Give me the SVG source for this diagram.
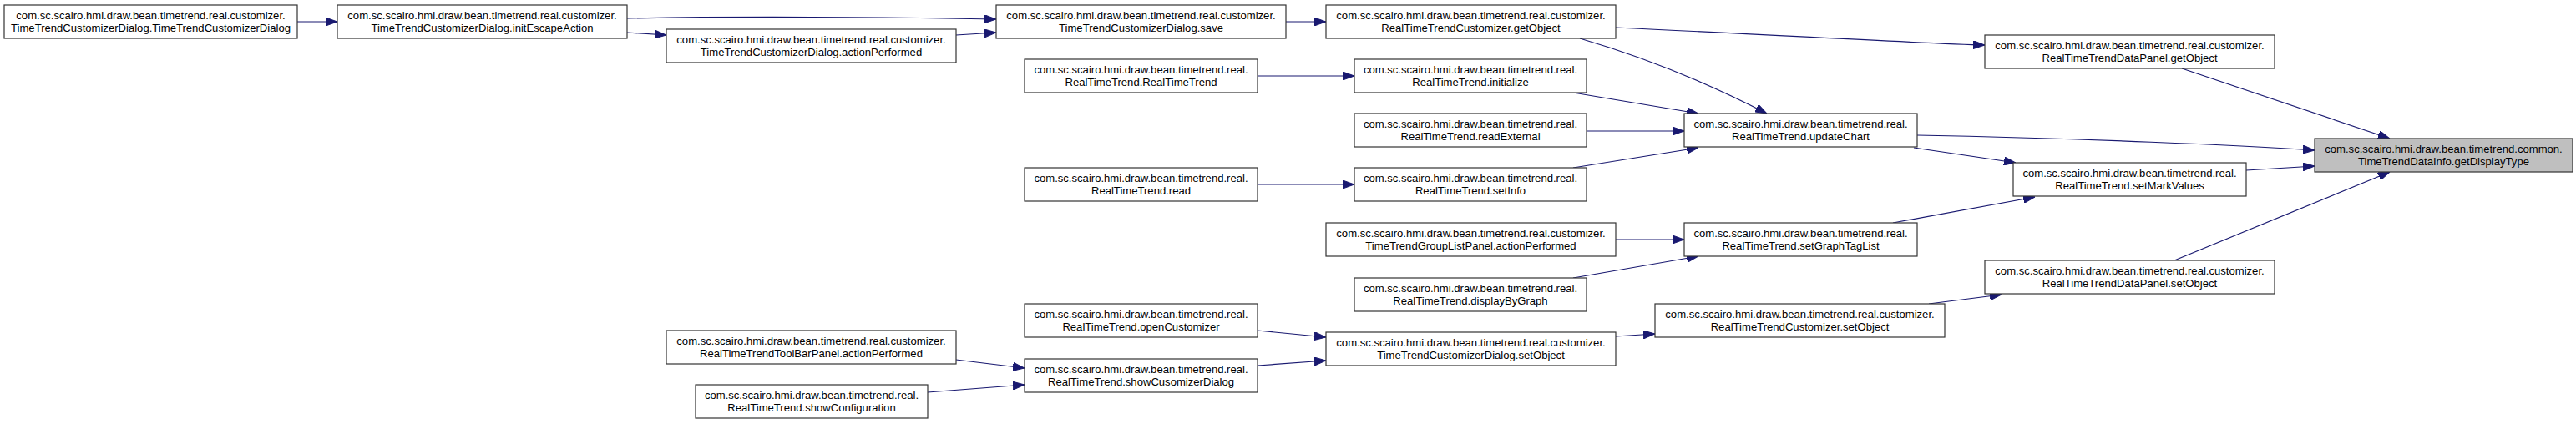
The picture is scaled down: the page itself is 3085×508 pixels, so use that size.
<svg xmlns="http://www.w3.org/2000/svg" width="3085" height="508" viewBox="0 0 3085 508">
<style>
.node rect{fill:#ffffff;stroke:#333333;stroke-width:1.2}
.node.target rect{fill:#bfbfbf}
.node text{font-family:"Liberation Sans",Arial,sans-serif;font-size:13.1px;fill:#000000;text-anchor:middle}
.edges path{fill:none;stroke:#191970;stroke-width:1.2;marker-end:url(#arrow)}
</style>
<defs>
<marker id="arrow" markerUnits="userSpaceOnUse" viewBox="0 0 14 10" refX="14" refY="5" markerWidth="14" markerHeight="10" orient="auto">
<path d="M0,0 L14,5 L0,10 z" fill="#191970" stroke="#191970" stroke-width="1"/>
</marker>
</defs>
<rect width="3085" height="508" fill="#ffffff"/>
<g class="edges" id="edges">
<path d="M356,26 L404,26"/>
<path d="M751,22 C900,19 1080,21 1193,23"/>
<path d="M751,39 L798,42"/>
<path d="M1145,42 L1193,39"/>
<path d="M1540,26 L1588,26"/>
<path d="M1506,91 L1622,91"/>
<path d="M1506,221 L1622,221"/>
<path d="M1892,46 Q2008,80 2116,136"/>
<path d="M1884,111 L2034,136"/>
<path d="M1900,157 L2017,157"/>
<path d="M1884,201 L2034,177"/>
<path d="M1935,33 C2150,43 2300,52 2377,54"/>
<path d="M2296,162 C2500,166 2680,174 2772,180"/>
<path d="M2292,177 L2414,195"/>
<path d="M2613,82 L2862,166"/>
<path d="M2690,204 L2772,199"/>
<path d="M1935,287 L2017,287"/>
<path d="M1884,333 L2034,307"/>
<path d="M2267,267 L2437,236"/>
<path d="M2604,312 L2862,206"/>
<path d="M2310,364 L2397,353"/>
<path d="M1935,403 L1982,400"/>
<path d="M1506,396 L1588,404"/>
<path d="M1506,438 L1588,432"/>
<path d="M1145,431 L1227,441"/>
<path d="M1111,470 L1227,461"/>
</g>
<g class="node" id="n_ttcd_ctor"><rect x="5" y="6" width="351" height="40"/><text x="180.5" y="23">com.sc.scairo.hmi.draw.bean.timetrend.real.customizer.</text><text x="180.5" y="38">TimeTrendCustomizerDialog.TimeTrendCustomizerDialog</text></g>
<g class="node" id="n_initEscape"><rect x="404" y="6" width="347" height="40"/><text x="577.5" y="23">com.sc.scairo.hmi.draw.bean.timetrend.real.customizer.</text><text x="577.5" y="38">TimeTrendCustomizerDialog.initEscapeAction</text></g>
<g class="node" id="n_ttcd_action"><rect x="798" y="35" width="347" height="40"/><text x="971.5" y="52">com.sc.scairo.hmi.draw.bean.timetrend.real.customizer.</text><text x="971.5" y="67">TimeTrendCustomizerDialog.actionPerformed</text></g>
<g class="node" id="n_save"><rect x="1193" y="6" width="347" height="40"/><text x="1366.5" y="23">com.sc.scairo.hmi.draw.bean.timetrend.real.customizer.</text><text x="1366.5" y="38">TimeTrendCustomizerDialog.save</text></g>
<g class="node" id="n_rtt_ctor"><rect x="1227" y="71" width="279" height="40"/><text x="1366.5" y="88">com.sc.scairo.hmi.draw.bean.timetrend.real.</text><text x="1366.5" y="103">RealTimeTrend.RealTimeTrend</text></g>
<g class="node" id="n_read"><rect x="1227" y="201" width="279" height="40"/><text x="1366.5" y="218">com.sc.scairo.hmi.draw.bean.timetrend.real.</text><text x="1366.5" y="233">RealTimeTrend.read</text></g>
<g class="node" id="n_rttc_get"><rect x="1588" y="6" width="347" height="40"/><text x="1761.5" y="23">com.sc.scairo.hmi.draw.bean.timetrend.real.customizer.</text><text x="1761.5" y="38">RealTimeTrendCustomizer.getObject</text></g>
<g class="node" id="n_initialize"><rect x="1622" y="71" width="278" height="40"/><text x="1761" y="88">com.sc.scairo.hmi.draw.bean.timetrend.real.</text><text x="1761" y="103">RealTimeTrend.initialize</text></g>
<g class="node" id="n_readExternal"><rect x="1622" y="136" width="278" height="40"/><text x="1761" y="153">com.sc.scairo.hmi.draw.bean.timetrend.real.</text><text x="1761" y="168">RealTimeTrend.readExternal</text></g>
<g class="node" id="n_setInfo"><rect x="1622" y="201" width="278" height="40"/><text x="1761" y="218">com.sc.scairo.hmi.draw.bean.timetrend.real.</text><text x="1761" y="233">RealTimeTrend.setInfo</text></g>
<g class="node" id="n_updateChart"><rect x="2017" y="136" width="279" height="40"/><text x="2156.5" y="153">com.sc.scairo.hmi.draw.bean.timetrend.real.</text><text x="2156.5" y="168">RealTimeTrend.updateChart</text></g>
<g class="node" id="n_dp_get"><rect x="2377" y="42" width="347" height="40"/><text x="2550.5" y="59">com.sc.scairo.hmi.draw.bean.timetrend.real.customizer.</text><text x="2550.5" y="74">RealTimeTrendDataPanel.getObject</text></g>
<g class="node target" id="n_target"><rect x="2772" y="166" width="309" height="40"/><text x="2926.5" y="183">com.sc.scairo.hmi.draw.bean.timetrend.common.</text><text x="2926.5" y="198">TimeTrendDataInfo.getDisplayType</text></g>
<g class="node" id="n_setMarkValues"><rect x="2411" y="195" width="279" height="40"/><text x="2550.5" y="212">com.sc.scairo.hmi.draw.bean.timetrend.real.</text><text x="2550.5" y="227">RealTimeTrend.setMarkValues</text></g>
<g class="node" id="n_grouplist"><rect x="1588" y="267" width="347" height="40"/><text x="1761.5" y="284">com.sc.scairo.hmi.draw.bean.timetrend.real.customizer.</text><text x="1761.5" y="299">TimeTrendGroupListPanel.actionPerformed</text></g>
<g class="node" id="n_setGraphTagList"><rect x="2017" y="267" width="279" height="40"/><text x="2156.5" y="284">com.sc.scairo.hmi.draw.bean.timetrend.real.</text><text x="2156.5" y="299">RealTimeTrend.setGraphTagList</text></g>
<g class="node" id="n_displayByGraph"><rect x="1622" y="333" width="278" height="40"/><text x="1761" y="350">com.sc.scairo.hmi.draw.bean.timetrend.real.</text><text x="1761" y="365">RealTimeTrend.displayByGraph</text></g>
<g class="node" id="n_dp_set"><rect x="2377" y="312" width="347" height="40"/><text x="2550.5" y="329">com.sc.scairo.hmi.draw.bean.timetrend.real.customizer.</text><text x="2550.5" y="344">RealTimeTrendDataPanel.setObject</text></g>
<g class="node" id="n_rttc_set"><rect x="1982" y="364" width="347" height="40"/><text x="2155.5" y="381">com.sc.scairo.hmi.draw.bean.timetrend.real.customizer.</text><text x="2155.5" y="396">RealTimeTrendCustomizer.setObject</text></g>
<g class="node" id="n_ttcd_set"><rect x="1588" y="398" width="347" height="40"/><text x="1761.5" y="415">com.sc.scairo.hmi.draw.bean.timetrend.real.customizer.</text><text x="1761.5" y="430">TimeTrendCustomizerDialog.setObject</text></g>
<g class="node" id="n_openCustomizer"><rect x="1227" y="364" width="279" height="40"/><text x="1366.5" y="381">com.sc.scairo.hmi.draw.bean.timetrend.real.</text><text x="1366.5" y="396">RealTimeTrend.openCustomizer</text></g>
<g class="node" id="n_toolbar"><rect x="798" y="396" width="347" height="40"/><text x="971.5" y="413">com.sc.scairo.hmi.draw.bean.timetrend.real.customizer.</text><text x="971.5" y="428">RealTimeTrendToolBarPanel.actionPerformed</text></g>
<g class="node" id="n_showCus"><rect x="1227" y="430" width="279" height="40"/><text x="1366.5" y="447">com.sc.scairo.hmi.draw.bean.timetrend.real.</text><text x="1366.5" y="462">RealTimeTrend.showCusomizerDialog</text></g>
<g class="node" id="n_showConf"><rect x="833" y="461" width="278" height="40"/><text x="972" y="478">com.sc.scairo.hmi.draw.bean.timetrend.real.</text><text x="972" y="493">RealTimeTrend.showConfiguration</text></g>
</svg>
